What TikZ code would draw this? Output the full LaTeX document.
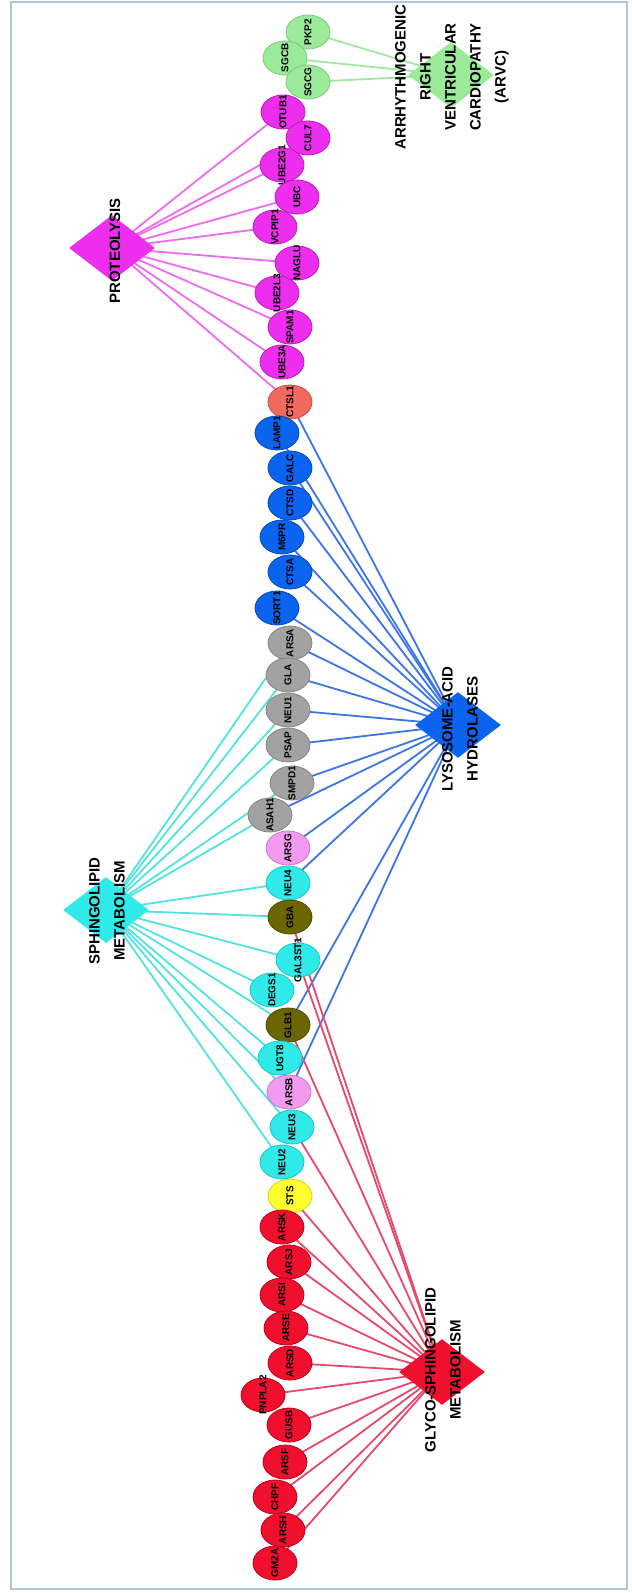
\documentclass[tikz,border=0pt]{standalone}
\usepackage{fontspec}
\setmainfont{Liberation Sans}
\usetikzlibrary{shapes.geometric}
\pgfdeclarelayer{bg}
\pgfsetlayers{bg,main}

% node fills / outlines
\definecolor{cGrn}{HTML}{9AEA9A}\definecolor{cGrnD}{HTML}{7CCB7C}
\definecolor{cMag}{HTML}{EE2EEE}\definecolor{cMagD}{HTML}{B81CB8}
\definecolor{cSal}{HTML}{F26A5E}\definecolor{cSalD}{HTML}{C84E44}
\definecolor{cBlu}{HTML}{0A64F0}\definecolor{cBluD}{HTML}{0048B8}
\definecolor{cGry}{HTML}{A2A2A2}\definecolor{cGryD}{HTML}{848484}
\definecolor{cPnk}{HTML}{F29AF0}\definecolor{cPnkD}{HTML}{CC78CC}
\definecolor{cCyn}{HTML}{30EAEA}\definecolor{cCynD}{HTML}{1CC4C4}
\definecolor{cOlv}{HTML}{6C6600}\definecolor{cOlvD}{HTML}{4E4A00}
\definecolor{cYlw}{HTML}{FFFF30}\definecolor{cYlwD}{HTML}{D2D21C}
\definecolor{cRed}{HTML}{F0102E}\definecolor{cRedD}{HTML}{B8001C}
% connector colours
\definecolor{eGrn}{HTML}{A2E8A2}
\definecolor{eMag}{HTML}{EE6CEE}
\definecolor{eBlu}{HTML}{3C76E4}
\definecolor{eCyn}{HTML}{52E2E2}
\definecolor{eRed}{HTML}{E64A6A}
\definecolor{frameC}{HTML}{B2C4D8}

\tikzset{
  gene/.style={ellipse, minimum width=22pt, minimum height=17pt, inner sep=0pt, line width=0.4pt},
  glab/.style={rotate=90, inner sep=0pt, font=\fontsize{5}{6}\selectfont\bfseries},
  fgrn/.style={fill=cGrn, draw=cGrnD},
  fmag/.style={fill=cMag, draw=cMagD},
  fsal/.style={fill=cSal, draw=cSalD},
  fblu/.style={fill=cBlu, draw=cBluD},
  fgry/.style={fill=cGry, draw=cGryD},
  fpnk/.style={fill=cPnk, draw=cPnkD},
  fcyn/.style={fill=cCyn, draw=cCynD},
  folv/.style={fill=cOlv, draw=cOlvD},
  fylw/.style={fill=cYlw, draw=cYlwD},
  fred/.style={fill=cRed, draw=cRedD},
  hub/.style={diamond, aspect=1.3, minimum width=43pt, minimum height=33pt, inner sep=0pt, draw=none},
  hublab/.style={rotate=90, align=center, inner sep=0pt,
                 font=\fontsize{7.5}{12.5}\selectfont\bfseries},
  link/.style={line width=0.9pt},
}

% gene node with its rotated label: style, name, position, text
\newcommand\gn[4]{%
  \node[gene,#1] (#2) at (#3) {};
  \node[glab] (#2-l) at (#2) {#4};}

\begin{document}
\begin{tikzpicture}[x=0.5pt, y=-0.5pt]
\useasboundingbox (0,0) rectangle (631,1593);

% hubs
\node[hub, fill=cGrn] (arvc)  at (451,75)   {};
\node[hub, fill=cMag] (prot)  at (112,248)  {};
\node[hub, fill=cBlu] (lyso)  at (458,725)  {};
\node[hub, fill=cCyn] (sphi)  at (106,910)  {};
\node[hub, fill=cRed] (glyco) at (442,1372) {};

% gene column
\gn{fgrn}{pkp2}{308,32}{PKP2}
\gn{fgrn}{sgcb}{285,58}{SGCB}
\gn{fgrn}{sgcg}{308,82}{SGCG}
\gn{fmag}{otub1}{283,112}{OTUB1}
\gn{fmag}{cul7}{308,138}{CUL7}
\gn{fmag}{ube2g1}{282,165}{UBE2G1}
\gn{fmag}{ubc}{297,197}{UBC}
\gn{fmag}{vcpip1}{275,227}{VCPIP1}
\gn{fmag}{naglu}{297,263}{NAGLU}
\gn{fmag}{ube2l3}{277,293}{UBE2L3}
\gn{fmag}{spam1}{290,327}{SPAM1}
\gn{fmag}{ube3a}{282,362}{UBE3A}
\gn{fsal}{ctsl1}{290,402}{CTSL1}
\gn{fblu}{lamp1}{277,433}{LAMP1}
\gn{fblu}{galc}{290,468}{GALC}
\gn{fblu}{ctsd}{290,503}{CTSD}
\gn{fblu}{m6pr}{282,537}{M6PR}
\gn{fblu}{ctsa}{290,572}{CTSA}
\gn{fblu}{sort1}{277,608}{SORT1}
\gn{fgry}{arsa}{290,643}{ARSA}
\gn{fgry}{gla}{288,675}{GLA}
\gn{fgry}{neu1}{288,710}{NEU1}
\gn{fgry}{psap}{288,745}{PSAP}
\gn{fgry}{smpd1}{292,783}{SMPD1}
\gn{fgry}{asah1}{270,815}{ASAH1}
\gn{fpnk}{arsg}{288,848}{ARSG}
\gn{fcyn}{neu4}{288,883}{NEU4}
\gn{folv}{gba}{290,917}{GBA}
\gn{fcyn}{gal3st1}{298,960}{GAL3ST1}
\gn{fcyn}{degs1}{272,990}{DEGS1}
\gn{folv}{glb1}{288,1025}{GLB1}
\gn{fcyn}{ugt8}{280,1058}{UGT8}
\gn{fpnk}{arsb}{289,1092}{ARSB}
\gn{fcyn}{neu3}{292,1127}{NEU3}
\gn{fcyn}{neu2}{282,1162}{NEU2}
\gn{fylw}{sts}{290,1196}{STS}
\gn{fred}{arsk}{282,1227}{ARSK}
\gn{fred}{arsj}{289,1262}{ARSJ}
\gn{fred}{arsi}{282,1295}{ARSI}
\gn{fred}{arse}{286,1328}{ARSE}
\gn{fred}{arsd}{290,1363}{ARSD}
\gn{fred}{pnpla2}{263,1395}{PNPLA2}
\gn{fred}{gusb}{289,1425}{GUSB}
\gn{fred}{arsf}{285,1462}{ARSF}
\gn{fred}{chpf}{275,1497}{CHPF}
\gn{fred}{arsh}{283,1530}{ARSH}
\gn{fred}{gm2a}{275,1563}{GM2A}

% hub captions
\node[hublab] (arvc-t) at (452,77)
  {ARRHYTHMOGENIC\\RIGHT\\VENTRICULAR\\CARDIOPATHY\\(ARVC)};
\node[hublab] (prot-t) at (115,251) {PROTEOLYSIS};
\node[hublab] (lyso-t) at (460,729) {LYSOSOME-ACID\\HYDROLASES};
\node[hublab] (sphi-t) at (107,911) {SPHINGOLIPID\\METABOLISM};
\node[hublab] (glyco-t) at (443,1370) {GLYCO-SPHINGOLIPID\\METABOLISM};

% page, frame and connectors, all behind the nodes
\begin{pgfonlayer}{bg}
\fill[white] (0,0) rectangle (631,1593);
\draw[frameC, line width=1pt] (11,2) rectangle (627,1589);
\foreach \n in {pkp2,sgcb,sgcg}
  \draw[link, eGrn] (arvc.center) -- (\n.center);
\foreach \n in {otub1,cul7,ube2g1,ubc,vcpip1,naglu,ube2l3,spam1,ube3a,ctsl1}
  \draw[link, eMag] (prot.center) -- (\n.center);
\foreach \n in {ctsl1,lamp1,galc,ctsd,m6pr,ctsa,sort1,arsa,gla,neu1,psap,smpd1,asah1,arsg,neu4,glb1,arsb}
  \draw[link, eBlu] (lyso.center) -- (\n.center);
\foreach \n in {arsa,gla,neu1,psap,smpd1,asah1,neu4,gba,gal3st1,degs1,glb1,ugt8,arsb,neu3,neu2}
  \draw[link, eCyn] (sphi.center) -- (\n.center);
\foreach \n in {gba,gal3st1,glb1,neu3,sts,arsk,arsj,arsi,arse,arsd,pnpla2,gusb,arsf,chpf,arsh,gm2a}
  \draw[link, eRed] (glyco.center) -- (\n.center);
\end{pgfonlayer}
\end{tikzpicture}
\end{document}
